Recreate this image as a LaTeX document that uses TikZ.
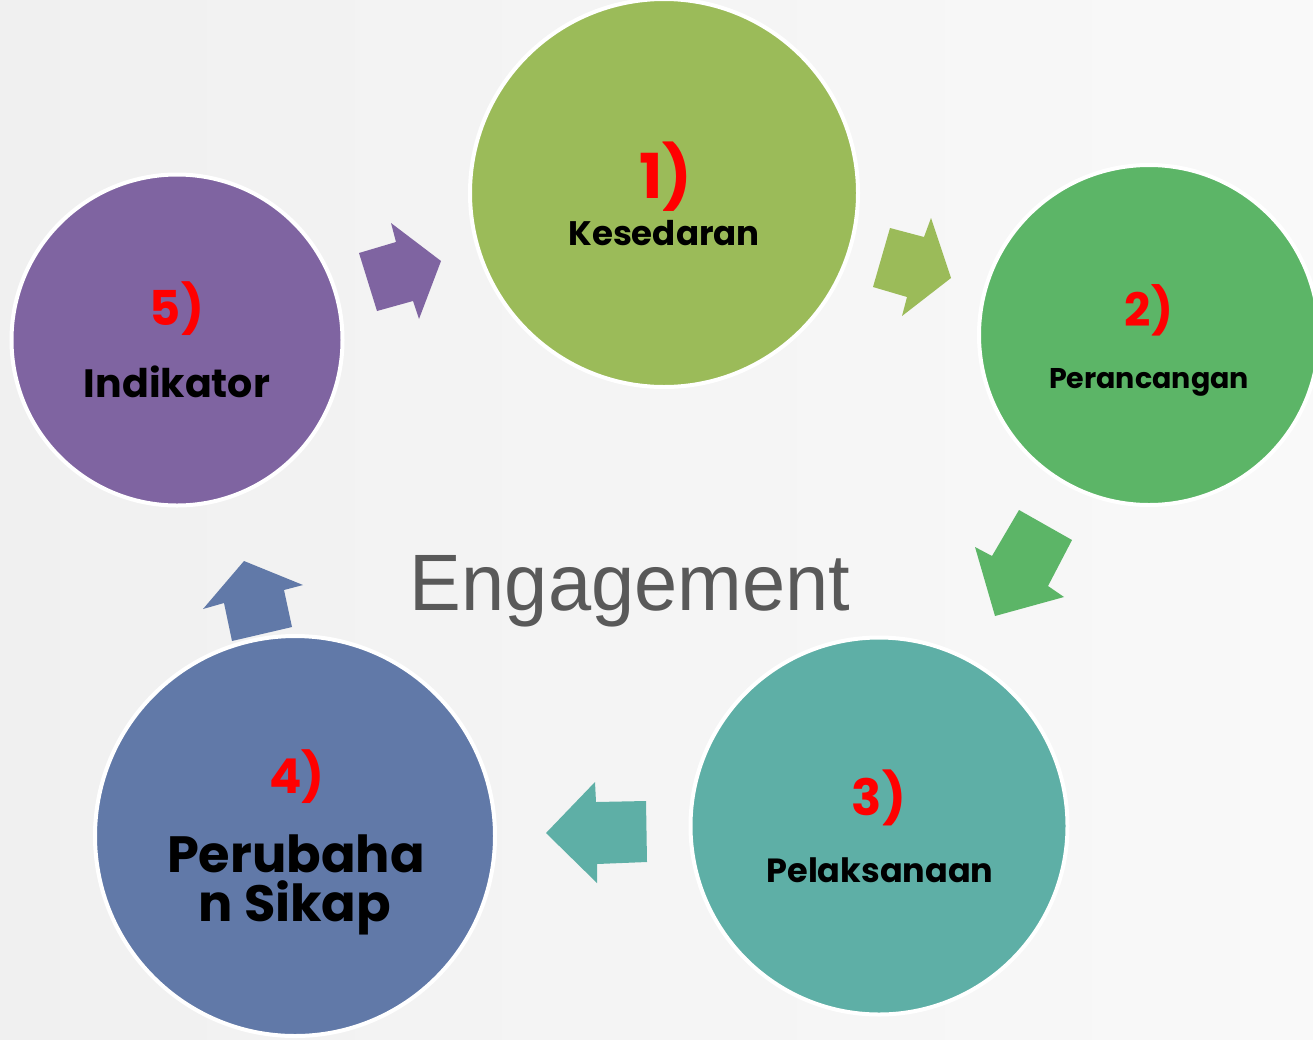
\documentclass[tikz,border=0pt]{standalone}
\usepackage{fontspec}
\setmainfont{Poppins}
\newfontfamily\engfont{Liberation Sans}
\definecolor{bg}{HTML}{F5F5F5}
\definecolor{cgreenA}{HTML}{9BBB59}
\definecolor{cgreenB}{HTML}{5CB567}
\definecolor{cteal}{HTML}{5EAFA6}
\definecolor{cblue}{HTML}{6179A8}
\definecolor{cpurple}{HTML}{7F64A1}
\definecolor{numred}{HTML}{FF0000}
\definecolor{enggrey}{HTML}{595959}
\begin{document}
\begin{tikzpicture}[x=1pt,y=-1pt,
  circ/.style={circle, draw=white, line width=4pt, minimum size=#1, inner sep=0pt},
  num/.style={text=numred, font=\bfseries\fontsize{#1}{#1}\selectfont, anchor=base},
  lbl/.style={text=black, font=\bfseries\fontsize{#1}{#1}\selectfont, anchor=base}]
\useasboundingbox (0,0) rectangle (1313,1039);
\shade[left color=bg!98!black, right color=bg!60!white] (0,0) rectangle (1313,1039);
% arrows
\fill[cpurple] (359,253) -- (396,242) -- (391,223) -- (441,261) -- (419,319) -- (413,301) -- (377,311) -- cycle;
\fill[cgreenA] (890,228) -- (924,237) -- (931,218) -- (951,278) -- (902,316) -- (907,297) -- (873,287) -- cycle;
\fill[cgreenB] (1019,510) -- (1072,540) -- (1048,586) -- (1064,597) -- (995,616) -- (975,547) -- (992,556) -- cycle;
\fill[cteal] (646,801) -- (647,862) -- (597,864) -- (597,883) -- (546,833) -- (595,782) -- (596,802) -- cycle;
\fill[cblue] (232,641) -- (292,627) -- (284,590) -- (303,585) -- (244,561) -- (203,609) -- (224,603) -- cycle;
% circles
\node[circ=388pt, fill=cgreenA] (c1) at (664,193) {};
\node[circ=340pt, fill=cgreenB] (c2) at (1149,335) {};
\node[circ=377pt, fill=cteal] (c3) at (879,826) {};
\node[circ=400pt, fill=cblue] (c4) at (295,836) {};
\node[circ=331pt, fill=cpurple] (c5) at (177,340) {};
% texts
\node[num=62] (n1) at (666,198) {1)};
\node[lbl=34] (t1) at (664,245) {Kesedaran};
\node[num=46] (n2) at (1149,326) {2)};
\node[lbl=28.5] (t2) at (1149,388) {Perancangan};
\node[num=50] (n3) at (879,815) {3)};
\node[lbl=33.5] (t3) at (880,882) {Pelaksanaan};
\node[num=48] (n4) at (297,793) {4)};
\node[lbl=51] (t4a) at (296,872) {Perubaha};
\node[lbl=51] (t4b) at (295,921) {n Sikap};
\node[num=48] (n5) at (177,325) {5)};
\node[lbl=39.5] (t5) at (177,397) {Indikator};
\node[text=enggrey, font=\engfont\fontsize{80}{80}\selectfont, anchor=base, xscale=0.97] (eng) at (630,610) {Engagement};
\end{tikzpicture}
\end{document}
